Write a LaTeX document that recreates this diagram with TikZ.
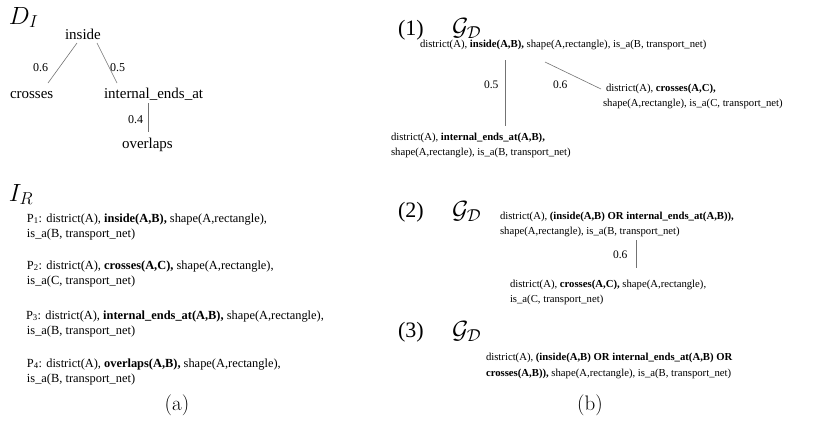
\documentclass[tikz,border=0pt]{standalone}
\usepackage{fontspec}
\newfontfamily\tnr{Liberation Serif}
\begin{document}
\begin{tikzpicture}[x=1pt,y=-1pt,
  every node/.style={inner sep=0pt,outer sep=0pt},
  lbl/.style={anchor=base west},
  treetxt/.style={lbl,font=\tnr\fontsize{15}{17}\selectfont},
  wnum/.style={lbl,font=\tnr\fontsize{12}{14}\selectfont},
  ptxt/.style={lbl,font=\tnr\fontsize{12.4}{15}\selectfont},
  rtxt/.style={lbl,font=\tnr\fontsize{10.7}{13}\selectfont},
  rnum/.style={lbl,font=\tnr\fontsize{11.5}{13}\selectfont},
  enum/.style={lbl,font=\tnr\fontsize{22}{26}\selectfont},
  bigm/.style={lbl,font=\fontsize{25}{30}\selectfont},
  gmath/.style={lbl,font=\fontsize{24}{28}\selectfont},
  capt/.style={anchor=center,font=\fontsize{21}{25}\selectfont},
  edge/.style={draw=black!55,line width=0.6pt}]
\useasboundingbox (0,0) rectangle (819,424);
% ---------- (a) D_I tree
\node[bigm] (DI) at (9,24) {$D_I$};
\node[treetxt] (inside) at (65,39) {inside};
\node[treetxt] (crosses) at (10,98) {crosses};
\node[treetxt] (iea) at (104,98) {internal\_ends\_at};
\node[treetxt] (overlaps) at (122,148) {overlaps};
\node[wnum] (n06) at (33,71) {0.6};
\node[wnum] (n05) at (110,71) {0.5};
\node[wnum] (n04) at (128,123) {0.4};
\coordinate (t1) at (77,43); \coordinate (t2) at (48,83);
\coordinate (t3) at (97,43); \coordinate (t4) at (117,83);
\coordinate (t5) at (148,103); \coordinate (t6) at (148,132);
\draw[edge] (t1) -- (t2);
\draw[edge] (t3) -- (t4);
\draw[edge] (t5) -- (t6);
% ---------- I_R
\node[bigm] (IR) at (9,201) {$I_R$};
\node[ptxt] (p1a) at (27,222) {P\textsubscript{1}: district(A), \textbf{inside(A,B),} shape(A,rectangle),};
\node[ptxt] (p1b) at (27,237) {is\_a(B, transport\_net)};
\node[ptxt] (p2a) at (27,269) {P\textsubscript{2}: district(A), \textbf{crosses(A,C),} shape(A,rectangle),};
\node[ptxt] (p2b) at (27,284) {is\_a(C, transport\_net)};
\node[ptxt] (p3a) at (26,319) {P\textsubscript{3}: district(A), \textbf{internal\_ends\_at(A,B),} shape(A,rectangle),};
\node[ptxt] (p3b) at (27,334) {is\_a(B, transport\_net)};
\node[ptxt] (p4a) at (27,367) {P\textsubscript{4}: district(A), \textbf{overlaps(A,B),} shape(A,rectangle),};
\node[ptxt] (p4b) at (27,382) {is\_a(B, transport\_net)};
\node[capt] (capa) at (177,405) {(a)};
% ---------- (1)
\node[enum] (e1) at (398,35) {(1)};
\node[gmath] (g1) at (452,35) {$\mathcal{G}_{\mathcal{D}}$};
\node[rtxt] (r1) at (420,47) {district(A), \textbf{inside(A,B),} shape(A,rectangle), is\_a(B, transport\_net)};
\node[rnum] (r1n05) at (484,88) {0.5};
\node[rnum] (r1n06) at (553,88) {0.6};
\node[rtxt] (r1ca) at (606,91) {district(A), \textbf{crosses(A,C),}};
\node[rtxt] (r1cb) at (603,106) {shape(A,rectangle), is\_a(C, transport\_net)};
\node[rtxt] (r1ia) at (391,140) {district(A), \textbf{internal\_ends\_at(A,B),}};
\node[rtxt] (r1ib) at (391,155) {shape(A,rectangle), is\_a(B, transport\_net)};
\coordinate (u1) at (505,60); \coordinate (u2) at (505,126);
\coordinate (u3) at (545,62); \coordinate (u4) at (601,89);
\draw[edge] (u1) -- (u2);
\draw[edge] (u3) -- (u4);
% ---------- (2)
\node[enum] (e2) at (398,217) {(2)};
\node[gmath] (g2) at (452,218) {$\mathcal{G}_{\mathcal{D}}$};
\node[rtxt] (r2a) at (500,219) {district(A), \textbf{(inside(A,B) OR internal\_ends\_at(A,B)),}};
\node[rtxt] (r2b) at (500,234) {shape(A,rectangle), is\_a(B, transport\_net)};
\node[rnum] (r2n06) at (613,258) {0.6};
\node[rtxt] (r2ca) at (510,287) {district(A), \textbf{crosses(A,C),} shape(A,rectangle),};
\node[rtxt] (r2cb) at (510,302) {is\_a(C, transport\_net)};
\coordinate (v1) at (636,240); \coordinate (v2) at (636,268);
\draw[edge] (v1) -- (v2);
% ---------- (3)
\node[enum] (e3) at (398,337) {(3)};
\node[gmath] (g3) at (452,338) {$\mathcal{G}_{\mathcal{D}}$};
\node[rtxt] (r3a) at (486,360) {district(A), \textbf{(inside(A,B) OR internal\_ends\_at(A,B) OR}};
\node[rtxt] (r3b) at (486,376) {\textbf{crosses(A,B)),} shape(A,rectangle), is\_a(B, transport\_net)};
\node[capt] (capb) at (590,405) {(b)};
\end{tikzpicture}
\end{document}
